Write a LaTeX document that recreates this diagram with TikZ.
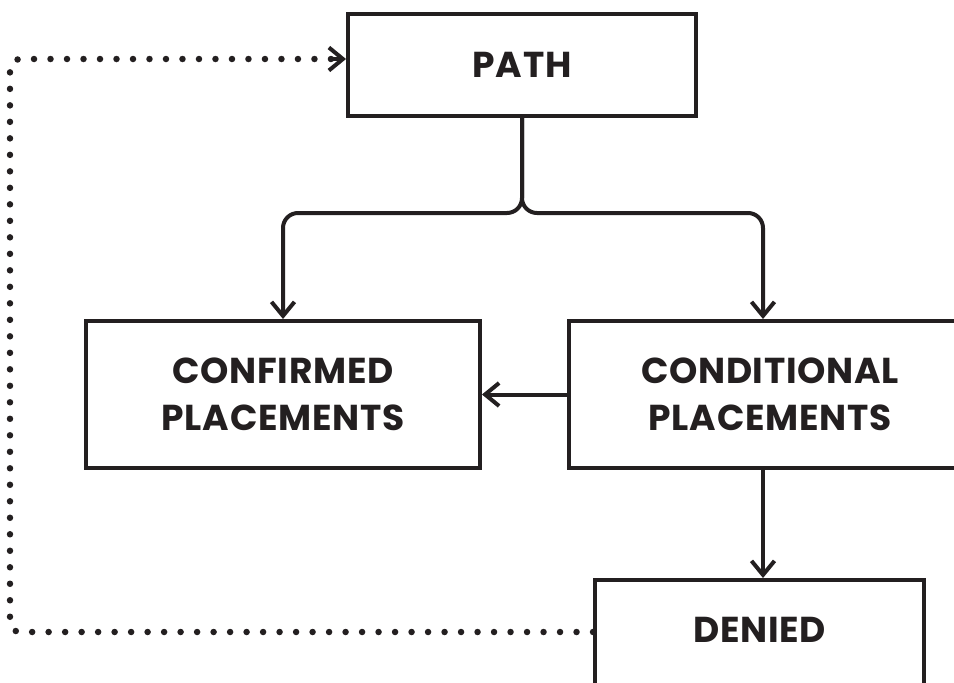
\documentclass[tikz,border=0pt]{standalone}
\usepackage{fontspec}
\setmainfont{Poppins}[LetterSpace=2]
\usetikzlibrary{arrows.meta, calc}
\definecolor{ink}{RGB}{35,31,32}

\begin{document}
\begin{tikzpicture}[x=0.02cm, y=-0.02cm, >={Straight Barb[length=0.28cm, width=0.46cm, line width=0.08cm]}]
  \tikzstyle{block} = [draw=ink, text=ink, line width=0.08cm, rectangle, align=center,
    font=\fontsize{20.5}{26.5}\selectfont\bfseries]
  \tikzstyle{link} = [draw=ink, line width=0.08cm, ->]
  \tikzstyle{back} = [draw=ink, line width=0.13cm, line cap=round, dash pattern=on 0pt off 0.33cm,
    rounded corners=0.2cm]
  \useasboundingbox (0,0) rectangle (954,683);
  \clip (0,0) rectangle (954,683);

  \node [block, minimum width=6.96cm, minimum height=2.04cm] (path) at (522,65) {PATH};
  \node [block, minimum width=7.88cm, minimum height=2.94cm] (confirmed) at (283,394.5) {CONFIRMED\\PLACEMENTS};
  \node [block, minimum width=8.04cm, minimum height=2.94cm] (conditional) at (770,394.5) {CONDITIONAL\\PLACEMENTS};
  \node [block, minimum width=6.58cm, minimum height=2.4cm, text depth=0.4cm] (denied) at (759.5,640) {DENIED};
  \coordinate (split) at (522,213);
  \coordinate (rjoin) at (763,213);
  \coordinate (corner) at (10,632);

  \draw [link, rounded corners=0.3cm] (path.south) -- (split) -| (confirmed.north);
  \draw [link, rounded corners=0.3cm] (path.south) -- (split) -- (rjoin) -- (rjoin |- conditional.north);
  \draw [link] (conditional.west) -- (confirmed.east);
  \draw [link] (rjoin |- conditional.south) -- (rjoin |- denied.north);
  % way back from denied to path
  \draw [back] ([yshift=0.16cm]denied.west) -- (corner) |- ([yshift=0.12cm]path.west);
  \draw [link] ([yshift=0.12cm, xshift=-0.3cm]path.west) -- ([yshift=0.12cm]path.west);
\end{tikzpicture}
\end{document}
